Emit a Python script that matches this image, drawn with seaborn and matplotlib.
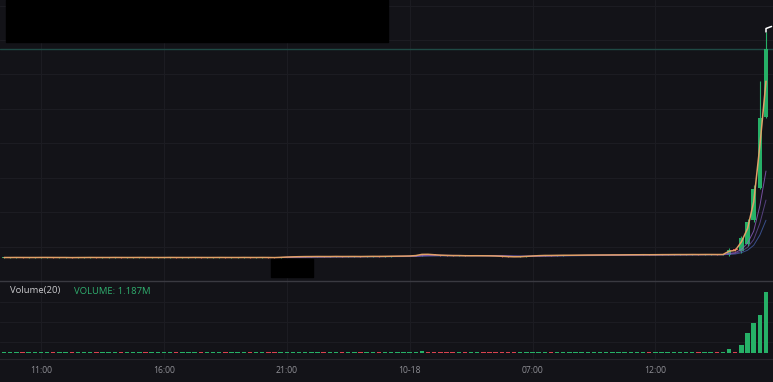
import numpy as np
import pandas as pd
import matplotlib
matplotlib.use("Agg")
import matplotlib.pyplot as plt
from matplotlib.patches import Rectangle
import seaborn as sns

# ---------------- data ----------------
tick_positions = [6, 26, 46, 66, 86, 106]
tick_labels = ["11:00", "16:00", "21:00", "10-18", "07:00", "12:00"]

flat_close = [
    0.341, 0.341, 0.342, 0.341, 0.341, 0.341, 0.342, 0.342, 0.341, 0.341,
    0.341, 0.339, 0.341, 0.341, 0.342, 0.341, 0.341, 0.341, 0.342, 0.341,
    0.341, 0.341, 0.342, 0.341, 0.341, 0.341, 0.341, 0.342, 0.341, 0.341,
    0.341, 0.342, 0.341, 0.341, 0.341, 0.342, 0.341, 0.341, 0.341, 0.342,
    0.341, 0.341, 0.342, 0.341, 0.339, 0.345, 0.350, 0.352, 0.354, 0.355,
    0.355, 0.356, 0.355, 0.355, 0.357, 0.355, 0.356, 0.356, 0.355, 0.357,
    0.358, 0.357, 0.358, 0.360, 0.361, 0.362, 0.364, 0.372, 0.395, 0.388,
    0.378, 0.372, 0.370, 0.368, 0.369, 0.366, 0.366, 0.367, 0.366, 0.365,
    0.362, 0.357, 0.352, 0.350, 0.353, 0.360, 0.366, 0.370, 0.372, 0.371,
    0.373, 0.374, 0.374, 0.375, 0.376, 0.377, 0.377, 0.378, 0.378, 0.379,
    0.379, 0.380, 0.381, 0.381, 0.382, 0.381, 0.382, 0.383, 0.383, 0.384,
    0.384, 0.384, 0.385, 0.384, 0.385, 0.385, 0.384, 0.385,
]
flat_volume = [
    0.020, 0.018, 0.022, 0.020, 0.019, 0.021, 0.020, 0.022, 0.018, 0.020,
    0.021, 0.022, 0.019, 0.020, 0.021, 0.020, 0.018, 0.020, 0.022, 0.019,
    0.020, 0.021, 0.020, 0.019, 0.022, 0.020, 0.018, 0.021, 0.020, 0.019,
    0.020, 0.022, 0.020, 0.019, 0.021, 0.020, 0.018, 0.020, 0.021, 0.020,
    0.019, 0.020, 0.022, 0.020, 0.024, 0.022, 0.021, 0.020, 0.019, 0.020,
    0.021, 0.020, 0.019, 0.020, 0.021, 0.020, 0.022, 0.019, 0.020, 0.021,
    0.020, 0.019, 0.020, 0.021, 0.020, 0.019, 0.022, 0.025, 0.030, 0.024,
    0.022, 0.020, 0.019, 0.020, 0.021, 0.020, 0.019, 0.020, 0.021, 0.020,
    0.022, 0.021, 0.020, 0.022, 0.021, 0.020, 0.019, 0.020, 0.021, 0.020,
    0.019, 0.020, 0.021, 0.020, 0.019, 0.020, 0.021, 0.020, 0.019, 0.020,
    0.021, 0.020, 0.019, 0.020, 0.021, 0.020, 0.019, 0.020, 0.021, 0.020,
    0.019, 0.020, 0.021, 0.020, 0.019, 0.020, 0.021, 0.020,
]

last_open = [0.384, 0.470, 0.430, 0.530, 0.890, 1.355, 2.385]
last_close = [0.457, 0.450, 0.630, 0.860, 1.340, 2.370, 3.370]
last_high = [0.486, 0.480, 0.650, 0.900, 1.400, 2.910, 3.616]
last_low = [0.370, 0.440, 0.410, 0.510, 0.860, 1.330, 2.360]
last_volume = [0.080, 0.020, 0.156, 0.390, 0.580, 0.740, 1.187]

volume_title = "Volume(20)"
volume_label = "VOLUME: 1.187M"

# ---------------- build table ----------------
n_flat = len(flat_close)
flat_open = [flat_close[0]] + flat_close[:-1]
df = pd.DataFrame({
    "open": flat_open + last_open,
    "close": flat_close + last_close,
    "volume": flat_volume + last_volume,
})
fo = np.array(flat_open)
fc = np.array(flat_close)
df["high"] = list(np.maximum(fo, fc) + 0.003) + last_high
df["low"] = list(np.minimum(fo, fc) - 0.003) + last_low
df["idx"] = np.arange(len(df))
df["up"] = df["close"] >= df["open"]

ma_specs = [(2, "#e2a167", 1.1, 1.0), (8, "#8f5fc2", 0.7, 0.8),
            (14, "#6a4f9e", 0.7, 0.75), (24, "#4662b0", 0.7, 0.75)]
for span, _, _, _ in ma_specs:
    df[f"ema{span}"] = df["close"].ewm(span=span, adjust=False).mean()

# ---------------- style ----------------
BG = "#131318"
GRID = "#1c1c22"
GREEN = "#26b067"
RED = "#d9434f"

sns.set_theme(style="dark", rc={
    "figure.facecolor": BG, "axes.facecolor": BG, "savefig.facecolor": BG,
    "axes.edgecolor": BG, "grid.color": GRID,
})
plt.rcParams["font.family"] = ["Open Sans", "DejaVu Sans"]

W, H = 773, 382
fig = plt.figure(figsize=(W / 100, H / 100), dpi=100)

def ax_rect(top, bottom):
    return [0, 1 - bottom / H, 1, (bottom - top) / H]

ax = fig.add_axes(ax_rect(0, 281))
axv = fig.add_axes(ax_rect(281, 359), sharex=ax)

xmin, xmax = -0.673, 125.14

# candles
colors = np.where(df["up"], GREEN, RED)
body_bottom = np.minimum(df["open"], df["close"])
body_height = np.maximum(np.abs(df["close"] - df["open"]), 0.004)
ax.vlines(df["idx"], df["low"], df["high"], colors=colors, linewidth=0.8, zorder=2)
ax.bar(df["idx"], body_height, bottom=body_bottom, width=0.74, color=colors,
       linewidth=0, zorder=3)

# moving averages
for span, col, lw, al in ma_specs[::-1]:
    sns.lineplot(data=df, x="idx", y=f"ema{span}", ax=ax, color=col,
                 linewidth=lw, alpha=al, zorder=4, legend=False)

# last price line
ax.axhline(df["close"].iloc[-1], color="#1f4a45", linewidth=1.0, zorder=1)

# high marker (cut off at the edge)
hi = df["high"].iloc[-1]
last_x = df["idx"].iloc[-1]
ax.plot([last_x, last_x, last_x + 0.9], [hi, hi + 0.05, hi + 0.08], color="white", lw=1.1, zorder=5)

ax.set_xlim(xmin, xmax)
ax.set_ylim(0.007, 4.08)
ax.set_yticks(np.arange(0.0, 4.01, 0.5))
ax.set_xticks(tick_positions)
ax.grid(True, color=GRID, linewidth=0.8)
ax.tick_params(labelbottom=False, labelleft=False, length=0)
ax.set_xlabel("")
ax.set_ylabel("")
for s in ax.spines.values():
    s.set_visible(False)

# volume
axv.bar(df["idx"], df["volume"], width=0.72, color=colors, linewidth=0, zorder=3)
axv.set_ylim(-0.117, 1.40)
axv.set_yticks([0.21, 0.6, 1.0])
axv.set_xticks(tick_positions)
axv.set_xticklabels(tick_labels)
axv.grid(True, color=GRID, linewidth=0.8)
axv.tick_params(axis="x", length=0, pad=5, labelsize=6.2, labelcolor="#8f8f95")
axv.tick_params(axis="y", length=0, labelleft=False)
for name, s in axv.spines.items():
    s.set_visible(False)
axv.spines["top"].set_visible(True)
axv.spines["top"].set_color("#3a3a41")
axv.spines["top"].set_linewidth(1.0)
axv.spines["bottom"].set_visible(True)
axv.spines["bottom"].set_color("#26262c")
axv.spines["bottom"].set_linewidth(0.8)
axv.set_xlim(xmin, xmax)
axv.set_xlabel("")
axv.set_ylabel("")

axv.text(10 / W, 1 - 291 / H, volume_title, transform=fig.transFigure, color="#c9c9cc",
         fontsize=6.8, va="center", ha="left")
axv.text(74 / W, 1 - 291 / H, volume_label, transform=fig.transFigure, color="#2fae6e",
         fontsize=6.8, va="center", ha="left")

# redaction boxes
fig.add_artist(Rectangle((6 / W, 1 - 42 / H), 382 / W, 42 / H, transform=fig.transFigure,
                         color="black", zorder=10))
fig.add_artist(Rectangle((271 / W, 1 - 277 / H), 42 / W, 18 / H, transform=fig.transFigure,
                         color="black", zorder=10))

fig.savefig("out.png", dpi=100, facecolor=BG)
